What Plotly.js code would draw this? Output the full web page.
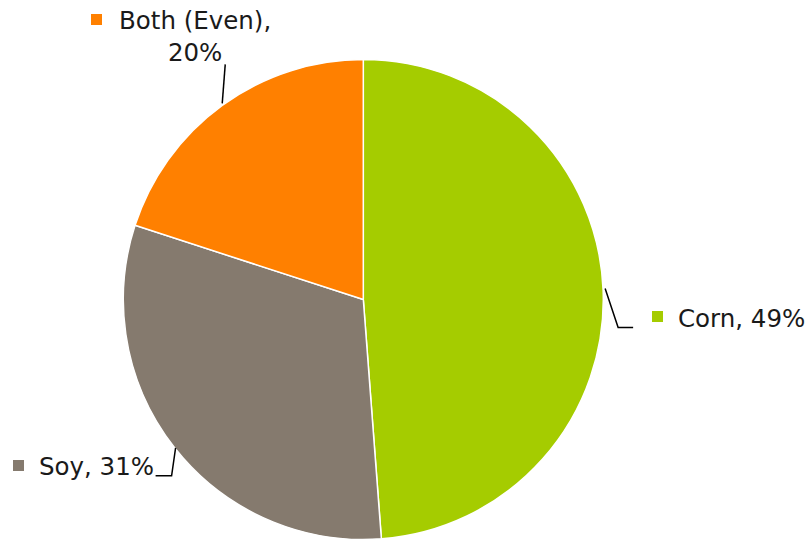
<!DOCTYPE html>
<html>
<head>
<meta charset="utf-8">
<script src="https://cdn.plot.ly/plotly-3.0.1.min.js"></script>
<style>html,body{margin:0;padding:0;background:#fff;}#chart{width:812px;height:541px;}</style>
</head>
<body>
<div id="chart"></div>
<script>
const categories = ["Corn", "Soy", "Both (Even)"];
const values = [48.8, 31.2, 20.0];
const labelTexts = ["Corn, 49%", "Soy, 31%", "Both (Even),<br>20%"];
const colors = ["#A5CC00", "#857A6E", "#FF8000"];

const W = 812, H = 541;
const cx = 363.3, cy = 299.5, R = 240;
const px = x => x / W;
const py = y => 1 - y / H;

const total = values.reduce((a, b) => a + b, 0);
let acc = 0;
const mids = values.map(v => { const m = (acc + v / 2) / total * 2 * Math.PI; acc += v; return m; });
const edge = mids.map(a => [cx + R * Math.sin(a), cy - R * Math.cos(a)]);

const shapes = [];
const annotations = [];
const font = {family: "'DejaVu Sans', sans-serif", size: 24.5, color: "#1a1a1a"};

// Corn
{
  const [ex, ey] = edge[0];
  shapes.push({type: "path", xref: "paper", yref: "paper",
    path: `M ${px(ex+2)} ${py(ey-2)} L ${px(ex+15)} ${py(ey+37)} L ${px(ex+30)} ${py(ey+37)}`,
    line: {color: "#000", width: 1.5}});
  shapes.push({type: "rect", xref: "paper", yref: "paper",
    x0: px(652), x1: px(663), y0: py(311), y1: py(322), fillcolor: colors[0], line: {width: 0}});
  annotations.push({xref: "paper", yref: "paper", x: px(676), y: py(318), xanchor: "left", yanchor: "middle",
    text: labelTexts[0], showarrow: false, font: font});
}
// Soy
{
  const [ex, ey] = edge[1];
  shapes.push({type: "path", xref: "paper", yref: "paper",
    path: `M ${px(ex+1)} ${py(ey)} L ${px(ex-3)} ${py(ey+28)} L ${px(ex-19)} ${py(ey+28)}`,
    line: {color: "#000", width: 1.5}});
  shapes.push({type: "rect", xref: "paper", yref: "paper",
    x0: px(13), x1: px(24), y0: py(460), y1: py(471), fillcolor: colors[1], line: {width: 0}});
  annotations.push({xref: "paper", yref: "paper", x: px(37), y: py(466), xanchor: "left", yanchor: "middle",
    text: labelTexts[1], showarrow: false, font: font});
}
// Both
{
  const [ex, ey] = edge[2];
  shapes.push({type: "path", xref: "paper", yref: "paper",
    path: `M ${px(ex)} ${py(ey-2)} L ${px(ex+3)} ${py(ey-41)}`,
    line: {color: "#000", width: 1.5}});
  shapes.push({type: "rect", xref: "paper", yref: "paper",
    x0: px(91), x1: px(102), y0: py(14), y1: py(25), fillcolor: colors[2], line: {width: 0}});
  annotations.push({xref: "paper", yref: "paper", x: px(195), y: py(37), xanchor: "center", yanchor: "middle",
    text: labelTexts[2], showarrow: false, font: font, align: "center"});
}

const data = [{
  type: "pie",
  labels: categories,
  values: values,
  sort: false,
  direction: "clockwise",
  rotation: 0,
  textinfo: "none",
  hoverinfo: "label+percent",
  marker: {colors: colors, line: {color: "#ffffff", width: 1.5}},
  domain: {x: [px(cx - R), px(cx + R)], y: [py(cy + R), py(cy - R)]}
}];

const layout = {
  width: W, height: H,
  margin: {l: 0, r: 0, t: 0, b: 0},
  paper_bgcolor: "#ffffff",
  showlegend: false,
  shapes: shapes,
  annotations: annotations
};

Plotly.newPlot("chart", data, layout, {displayModeBar: false, staticPlot: true});
</script>
</body>
</html>
